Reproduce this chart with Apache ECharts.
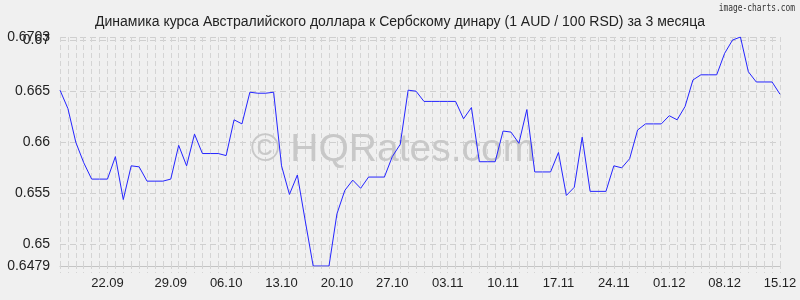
<!DOCTYPE html>
<html>
<head>
<meta charset="utf-8">
<script src="https://cdn.jsdelivr.net/npm/echarts@6/dist/echarts.min.js"></script>
<style>
html,body{margin:0;padding:0;background:#f0f0f0;}
#c{width:800px;height:300px;}
</style>
</head>
<body>
<div id="c"></div>
<script>
const titleText = 'Динамика курса Австралийского доллара к Сербскому динару (1 AUD / 100 RSD) за 3 месяца';
const rates = [
  0.6651, 0.6633, 0.6600, 0.6580, 0.6564, 0.6564, 0.6564, 0.6586, 0.6544, 0.6577,
  0.6576, 0.6562, 0.6562, 0.6562, 0.6564, 0.6597, 0.6577, 0.6608, 0.6589, 0.6589,
  0.6589, 0.6587, 0.6622, 0.6618, 0.6649, 0.6648, 0.6648, 0.6649, 0.6577, 0.6549,
  0.6568, 0.6523, 0.6479, 0.6479, 0.6479, 0.6530, 0.6553, 0.6563, 0.6555, 0.6566,
  0.6566, 0.6566, 0.6586, 0.6598, 0.6651, 0.6650, 0.6640, 0.6640, 0.6640, 0.6640,
  0.6640, 0.6623, 0.6634, 0.6581, 0.6581, 0.6581, 0.6611, 0.6610, 0.6599, 0.6632,
  0.6571, 0.6571, 0.6571, 0.6590, 0.6548, 0.6556, 0.6605, 0.6552, 0.6552, 0.6552,
  0.6577, 0.6575, 0.6584, 0.6612, 0.6618, 0.6618, 0.6618, 0.6626, 0.6622, 0.6635,
  0.6661, 0.6666, 0.6666, 0.6666, 0.6687, 0.6700, 0.6703, 0.6669, 0.6659, 0.6659,
  0.6659, 0.6647
];
const xLabelIndex = [6, 14, 21, 28, 35, 42, 49, 56, 63, 70, 77, 84, 91];
const xLabelText = ['22.09', '29.09', '06.10', '13.10', '20.10', '27.10', '03.11', '10.11', '17.11', '24.11', '01.12', '08.12', '15.12'];
const yTicks = [0.6479, 0.65, 0.655, 0.66, 0.665, 0.67, 0.6703];
const yTicksOverlapping = [0.67];
const yMin = 0.6479, yMax = 0.6703;

const chart = echarts.init(document.getElementById('c'), null, {renderer: 'canvas'});
const seriesData = rates.map((v, i) => [i, v]);
const yLabelStyle = {margin: 10, fontFamily: 'Liberation Sans', fontSize: 14, color: '#222',
  formatter: function (v) { return String(+v.toFixed(4)); }};
chart.setOption({
  backgroundColor: '#f0f0f0',
  animation: false,
  title: {
    text: titleText, left: 'center', top: 10,
    textStyle: {fontFamily: 'Liberation Sans', fontSize: 14, fontWeight: 'normal', color: '#222'}
  },
  grid: {left: 60, right: 20, top: 37, bottom: 34, containLabel: false},
  xAxis: {
    type: 'value', min: 0, max: seriesData.length - 1, interval: 1,
    axisLine: {show: true, lineStyle: {color: '#c4c4c4', width: 1}},
    axisTick: {show: true, length: 7, lineStyle: {color: '#d4d4d4', type: [3, 3]}},
    splitLine: {show: true, lineStyle: {color: '#d4d4d4', width: 1, type: [5, 3]}},
    axisLabel: {
      margin: 11, fontFamily: 'Liberation Sans', fontSize: 13, color: '#222',
      formatter: function (v) {
        const k = xLabelIndex.indexOf(Math.round(v));
        return k >= 0 ? xLabelText[k] : '';
      }
    }
  },
  yAxis: [{
    type: 'value', min: yMin, max: yMax, position: 'left',
    axisLine: {show: false},
    axisTick: {show: false, customValues: yTicks},
    splitLine: {show: true, lineStyle: {color: '#cfcfcf', width: 1, type: [6, 4]}},
    axisLabel: Object.assign({
      customValues: yTicks.filter(v => yTicksOverlapping.indexOf(v) < 0),
      showMinLabel: true, showMaxLabel: true
    }, yLabelStyle)
  }, {
    type: 'value', min: yMin, max: yMax, position: 'left', offset: 0,
    axisLine: {show: false},
    axisTick: {show: false, customValues: yTicksOverlapping},
    splitLine: {show: false},
    axisLabel: Object.assign({customValues: yTicksOverlapping}, yLabelStyle)
  }],
  graphic: [
    {type: 'text', x: 393, y: 150, z: 1,
      style: {text: '© HQRates.com', fontFamily: 'Liberation Sans', fontSize: 39, fill: '#c8c8c8',
        textAlign: 'center', textVerticalAlign: 'middle'}},
    {type: 'text', x: 795, y: 8, scaleX: 0.72,
      style: {text: 'image-charts.com', fontFamily: 'DejaVu Sans Mono', fontSize: 11, fill: '#333',
        textAlign: 'right', textVerticalAlign: 'middle'}}
  ],
  series: [{
    type: 'line', data: seriesData, symbol: 'none', z: 3, yAxisIndex: 0,
    lineStyle: {color: '#2424ff', width: 1}
  }]
});
</script>
</body>
</html>
